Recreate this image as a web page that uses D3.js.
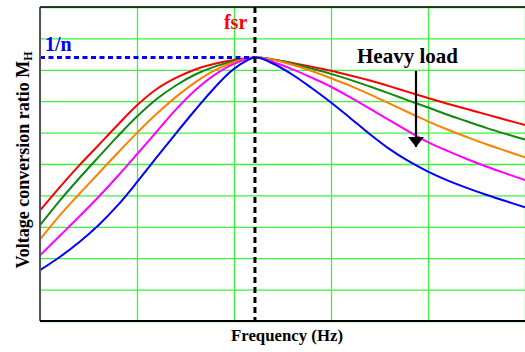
<!DOCTYPE html>
<html>
<head>
<meta charset="utf-8">
<script src="https://cdn.jsdelivr.net/npm/d3@7"></script>
<style>
  body { margin: 0; background: #fff; }
  svg { display: block; }
  text { font-family: "Liberation Serif", "Times New Roman", serif; font-weight: bold; }
</style>
</head>
<body>
<div id="chart"></div>
<script>
// normalized frequency (grid units) and voltage conversion ratio (grid units)
const freq = [0, 0.2, 0.4, 0.6, 0.8, 1.0, 1.2, 1.4, 1.6, 1.8, 2.0, 2.22, 2.4, 2.6, 2.8,
              3.0, 3.2, 3.4, 3.6, 3.8, 4.0, 4.2, 4.4, 4.6, 4.8, 5.0];

const lightLoad = [3.52, 4.25, 4.94, 5.59, 6.24, 6.87, 7.38, 7.74, 8.01, 8.19, 8.31, 8.39, 8.33,
                   8.22, 8.10, 7.97, 7.82, 7.66, 7.48, 7.29, 7.10, 6.92, 6.75, 6.58, 6.41, 6.24];
const load2 = [3.05, 3.82, 4.53, 5.21, 5.88, 6.51, 7.06, 7.50, 7.85, 8.10, 8.28, 8.39, 8.33,
               8.20, 8.04, 7.87, 7.68, 7.47, 7.25, 7.02, 6.80, 6.57, 6.36, 6.15, 5.96, 5.78];
const load3 = [2.60, 3.35, 4.03, 4.69, 5.35, 5.99, 6.59, 7.13, 7.60, 7.98, 8.24, 8.39, 8.32,
               8.16, 7.96, 7.73, 7.49, 7.22, 6.93, 6.64, 6.36, 6.10, 5.86, 5.63, 5.42, 5.21];
const load4 = [2.09, 2.70, 3.31, 3.94, 4.61, 5.31, 6.02, 6.73, 7.35, 7.84, 8.19, 8.39, 8.25,
               8.02, 7.75, 7.46, 7.12, 6.76, 6.40, 6.04, 5.70, 5.42, 5.16, 4.92, 4.70, 4.49];
const heavyLoad = [1.62, 2.03, 2.50, 3.04, 3.68, 4.42, 5.20, 5.97, 6.72, 7.43, 8.03, 8.39, 8.20,
                   7.85, 7.42, 6.96, 6.46, 5.95, 5.48, 5.09, 4.76, 4.48, 4.24, 4.02, 3.82, 3.62];

const curves = [lightLoad, load2, load3, load4, heavyLoad];
const curveColors = ["#ff0000", "#118811", "#ff8000", "#ff00ff", "#0000ff"];

const fsr = 2.216;      // series resonant frequency
const oneOverN = 8.39;  // 1/n level

const margin = { top: 7, right: 0, bottom: 31, left: 40 };
const W = 525, H = 352;
const width = W - margin.left - margin.right;
const height = H - margin.top - margin.bottom;

const svg = d3.select("#chart").append("svg")
    .attr("width", W)
    .attr("height", H);

const g = svg.append("g")
    .attr("transform", `translate(${margin.left},${margin.top})`);

const x = d3.scaleLinear().domain([0, 5]).range([0, width]);
const y = d3.scaleLinear().domain([0, 10]).range([height, 0]);

// green grid
const gridX = g.append("g")
    .attr("transform", `translate(0,${height})`)
    .call(d3.axisBottom(x).ticks(5).tickSize(-height).tickFormat(""));
const gridY = g.append("g")
    .call(d3.axisLeft(y).ticks(10).tickSize(-width).tickFormat(""));
[gridX, gridY].forEach(ax => {
    ax.select(".domain").remove();
    ax.selectAll(".tick line").attr("stroke", "#3ff03f").attr("stroke-width", 1.3);
});

// curves
const line = d3.line()
    .x((d, i) => x(freq[i]))
    .y(d => y(d))
    .curve(d3.curveCatmullRom.alpha(0.5));

curves.forEach((c, i) => {
    g.append("path")
        .datum(c)
        .attr("fill", "none")
        .attr("stroke", curveColors[i])
        .attr("stroke-width", 2)
        .attr("d", line);
});

// 1/n level
g.append("line")
    .attr("x1", x(0)).attr("x2", x(fsr))
    .attr("y1", y(oneOverN)).attr("y2", y(oneOverN))
    .attr("stroke", "#0000ff")
    .attr("stroke-width", 3)
    .attr("stroke-dasharray", "5,3.5");

// fsr marker
g.append("line")
    .attr("x1", x(fsr)).attr("x2", x(fsr))
    .attr("y1", y(10)).attr("y2", y(0))
    .attr("stroke", "#000")
    .attr("stroke-width", 3)
    .attr("stroke-dasharray", "6,4");

// frame: left, bottom, top
g.append("line").attr("x1", 0).attr("x2", 0).attr("y1", 0).attr("y2", height)
    .attr("stroke", "#555").attr("stroke-width", 2);
g.append("line").attr("x1", 0).attr("x2", width).attr("y1", height).attr("y2", height)
    .attr("stroke", "#000").attr("stroke-width", 2);
g.append("line").attr("x1", 0).attr("x2", width).attr("y1", 0).attr("y2", 0)
    .attr("stroke", "#000").attr("stroke-width", 1.5);

// labels inside plot
g.append("text")
    .attr("x", 5).attr("y", 44)
    .attr("fill", "#0000ff")
    .attr("font-size", 20)
    .text("1/n");

g.append("text")
    .attr("x", x(fsr) - 31).attr("y", 22)
    .attr("fill", "#ff0000")
    .attr("font-size", 20)
    .text("fsr");

g.append("text")
    .attr("x", 317).attr("y", 56)
    .attr("fill", "#000")
    .attr("font-size", 21)
    .text("Heavy load");

// arrow
svg.append("defs").append("marker")
    .attr("id", "head")
    .attr("viewBox", "0 0 10 16")
    .attr("refX", 10).attr("refY", 8)
    .attr("markerWidth", 10).attr("markerHeight", 16)
    .attr("markerUnits", "userSpaceOnUse")
    .attr("orient", "auto")
    .append("path")
    .attr("d", "M0,0 L10,8 L0,16 Z")
    .attr("fill", "#000");

g.append("line")
    .attr("x1", 376).attr("x2", 376)
    .attr("y1", 64).attr("y2", 140)
    .attr("stroke", "#000")
    .attr("stroke-width", 2.2)
    .attr("marker-end", "url(#head)");

// axis titles
svg.append("text")
    .attr("x", 287).attr("y", 341)
    .attr("text-anchor", "middle")
    .attr("font-size", 16.8)
    .text("Frequency (Hz)");

const yTitle = svg.append("text")
    .attr("transform", "translate(29,160) rotate(-90)")
    .attr("text-anchor", "middle")
    .attr("font-size", 18)
    .text("Voltage conversion ratio M");
yTitle.append("tspan")
    .attr("font-size", 12)
    .attr("dy", 3)
    .text("H");
</script>
</body>
</html>
